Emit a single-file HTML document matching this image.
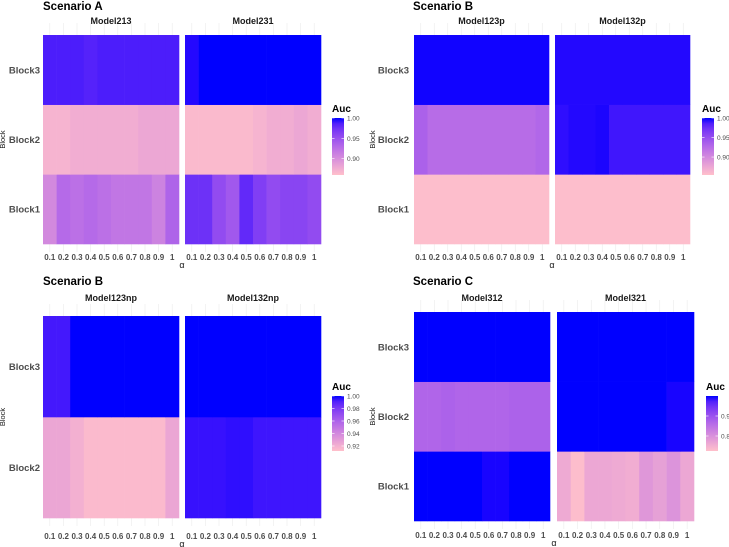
<!DOCTYPE html>
<html><head><meta charset="utf-8"><style>
html,body{margin:0;padding:0;background:#fff;}
svg{display:block;font-family:"Liberation Sans",sans-serif;}
</style></head><body>
<svg id="chart" width="729" height="547" viewBox="0 0 729 547" xmlns="http://www.w3.org/2000/svg"></svg>
<script>
const alphaTicks = ["0.1","0.2","0.3","0.4","0.5","0.6","0.7","0.8","0.9","1"];
const blocks3 = ["Block1","Block2","Block3"];
const blocks2 = ["Block2","Block3"];
// Scenario A
const m213_b1 = [0.905,0.93,0.925,0.93,0.925,0.92,0.92,0.92,0.91,0.935];
const m213_b2 = [0.87,0.87,0.875,0.875,0.875,0.875,0.875,0.88,0.88,0.88];
const m213_b3 = [0.988,0.988,0.988,0.985,0.988,0.988,0.988,0.988,0.988,0.988];
const m231_b1 = [0.975,0.975,0.955,0.945,0.98,0.965,0.955,0.96,0.96,0.955];
const m231_b2 = [0.865,0.865,0.865,0.865,0.865,0.87,0.875,0.875,0.88,0.875];
const m231_b3 = [0.997,1,1,1,1,1,1,1,1,1];
// Scenario B (p)
const m123p_b1 = [0.856,0.856,0.856,0.856,0.856,0.856,0.856,0.856,0.856,0.856];
const m123p_b2 = [0.935,0.925,0.925,0.925,0.925,0.925,0.925,0.925,0.925,0.93];
const m123p_b3 = [0.999,0.999,0.999,0.999,0.999,0.999,0.999,0.999,0.999,0.999];
const m132p_b1 = [0.856,0.856,0.856,0.856,0.856,0.856,0.856,0.856,0.856,0.856];
const m132p_b2 = [0.995,0.997,0.997,0.998,0.991,0.991,0.991,0.991,0.991,0.991];
const m132p_b3 = [0.997,0.997,0.997,0.997,0.997,0.997,0.997,0.997,0.997,0.997];
// Scenario B (np)
const m123np_b2 = [0.925,0.925,0.92,0.915,0.915,0.915,0.915,0.915,0.915,0.925];
const m123np_b3 = [0.994,0.994,1,1,1,1,1,1,1,1];
const m132np_b2 = [0.996,0.996,0.996,0.997,0.997,0.995,0.995,0.995,0.995,0.995];
const m132np_b3 = [1,1,1,1,1,1,1,1,1,1];
// Scenario C
const m312_b1 = [1,1,1,1,1,0.997,0.997,1,1,1];
const m312_b2 = [0.87,0.87,0.875,0.87,0.87,0.87,0.87,0.875,0.875,0.875];
const m312_b3 = [1,1,1,1,1,1,1,1,1,1];
const m321_b1 = [0.76,0.73,0.765,0.765,0.76,0.755,0.79,0.775,0.795,0.765];
const m321_b2 = [1,1,1,1,1,1,1,1,0.997,0.997];
const m321_b3 = [1,1,1,1,1,1,1,1,1,1];
// legend scales
const legA = {min:0.86,max:1.0,ticks:["1.00","0.95","0.90"],vals:[1.0,0.95,0.90]};
const legB = {min:0.854,max:1.0,ticks:["1.00","0.95","0.90"],vals:[1.0,0.95,0.90]};
const legBnp = {min:0.912,max:1.0,ticks:["1.00","0.98","0.96","0.94","0.92"],vals:[1.0,0.98,0.96,0.94,0.92]};
const legC = {min:0.725,max:1.0,ticks:["0.9","0.8"],vals:[0.9,0.8]};

const NS="http://www.w3.org/2000/svg";
const svg=document.getElementById('chart');
function mk(tag,attrs,parent,text){const e=document.createElementNS(NS,tag);for(const k in attrs)e.setAttribute(k,attrs[k]);if(text!==undefined)e.textContent=text;(parent||svg).appendChild(e);return e;}

function s2l(c){c/=255;return c<=0.04045?c/12.92:Math.pow((c+0.055)/1.055,2.4);}
function l2s(c){c=c<=0.0031308?12.92*c:1.055*Math.pow(c,1/2.4)-0.055;return Math.max(0,Math.min(255,Math.round(c*255)));}
function toLab(r,g,b){r=s2l(r);g=s2l(g);b=s2l(b);
 let x=(0.4124*r+0.3576*g+0.1805*b)/0.95047,y=0.2126*r+0.7152*g+0.0722*b,z=(0.0193*r+0.1192*g+0.9505*b)/1.08883;
 const f=t=>t>0.008856?Math.cbrt(t):7.787*t+16/116;x=f(x);y=f(y);z=f(z);return [116*y-16,500*(x-y),200*(y-z)];}
function fromLab(L,a,bb){let y=(L+16)/116,x=a/500+y,z=y-bb/200;
 const f=t=>t*t*t>0.008856?t*t*t:(t-16/116)/7.787;x=f(x)*0.95047;y=f(y);z=f(z)*1.08883;
 const r=3.2406*x-1.5372*y-0.4986*z,g=-0.9689*x+1.8758*y+0.0415*z,b=0.0557*x-0.2040*y+1.0570*z;
 return `rgb(${l2s(r)},${l2s(g)},${l2s(b)})`;}
const LO=toLab(255,192,203),HI=toLab(0,0,255);
function col(t){t=Math.max(0,Math.min(1,t));return fromLab(LO[0]+(HI[0]-LO[0])*t,LO[1]+(HI[1]-LO[1])*t,LO[2]+(HI[2]-LO[2])*t);}

let gid=0;
function panel(p){
  const g=mk('g',{});
  
  
  const t=mk('text',{x:p.titleX,y:p.titleY,'font-size':11.5,'font-weight':'bold',fill:'#000'},g,p.title);
  
  const nRows=p.blocks.length;
  const rowH=(p.y1-p.y0)/nRows;
  p.facets.forEach((f,fi)=>{
    const x0=f.x0,x1=f.x1,cw=(x1-x0)/alphaTicks.length;
    const xs=i=>x0+cw*i;
    alphaTicks.forEach((a,i)=>{mk('line',{x1:xs(i)+cw/2,x2:xs(i)+cw/2,y1:p.y0-12,y2:p.y1+8,stroke:'#ebebeb','stroke-width':0.6},g);});
    const fl=mk('text',{x:(x0+x1)/2,y:p.facetY,'font-size':9,'font-weight':'bold','text-anchor':'middle',fill:'#1a1a1a'},g,f.label);
    
    p.blocks.forEach((b,bi)=>{
      const vals=f.data[bi];
      const yTop=p.y1-rowH*(bi+1);
      vals.forEach((v,i)=>{
        const r=mk('rect',{x:xs(i),y:yTop,width:cw+0.3,height:rowH+0.3,fill:col((v-p.leg.min)/(p.leg.max-p.leg.min))},g);
        
        
      });
    });
    alphaTicks.forEach((a,i)=>{
      const tl=mk('text',{x:xs(i)+cw/2,y:p.tickY,'font-size':8,'font-weight':'bold','text-anchor':'middle',fill:'#4d4d4d'},g,a);
      
    });
  });
  p.blocks.forEach((b,bi)=>{
    const yc=p.y1-rowH*(bi+0.5);
    const bl=mk('text',{x:p.blockX,y:yc+3.5,'font-size':9.5,'font-weight':'bold','text-anchor':'end',fill:'#4d4d4d'},g,b);
    
  });
  const yt=mk('text',{x:0,y:0,'font-size':7.5,fill:'#1a1a1a','text-anchor':'middle',transform:`translate(${p.yTitleX},${(p.y0+p.y1)/2}) rotate(-90)`},g,'Block');
  
  const xt=mk('text',{x:(p.facets[0].x0+p.facets[1].x1)/2,y:p.tickY+8,'font-size':9,'text-anchor':'middle',fill:'#1a1a1a'},g,'α');
  
  const L=p.legPos, id='grad'+(gid++);
  const defs=mk('defs',{},g);
  const lg=mk('linearGradient',{id:id,x1:0,y1:1,x2:0,y2:0},defs);
  for(let k=0;k<=10;k++)mk('stop',{offset:k/10,'stop-color':col(k/10)},lg);
  const lt=mk('text',{x:L.x,y:L.y0-6,'font-size':10,'font-weight':'bold',fill:'#000'},g,'Auc');
  
  const lb=mk('rect',{x:L.x,y:L.y0,width:12,height:L.y1-L.y0,fill:`url(#${id})`},g);
  
  p.leg.vals.forEach((v,i)=>{
    const yy=L.y1-(v-p.leg.min)/(p.leg.max-p.leg.min)*(L.y1-L.y0);
    mk('line',{x1:L.x,x2:L.x+2.5,y1:yy,y2:yy,stroke:'#fff','stroke-width':0.6},g);
    mk('line',{x1:L.x+9.5,x2:L.x+12,y1:yy,y2:yy,stroke:'#fff','stroke-width':0.6},g);
    const tx=mk('text',{x:L.x+15,y:yy+2.5,'font-size':6.5,fill:'#4d4d4d'},g,p.leg.ticks[i]);
    
  });
}

panel({name:'panel-scenario-a',title:'Scenario A',titleX:43,titleY:10,facetY:24,y0:35,y1:244,tickY:260,blockX:40,yTitleX:5,
  blocks:blocks3,leg:legA,legPos:{x:332,y0:118,y1:175},
  facets:[{label:'Model213',x0:43,x1:179,data:[m213_b1,m213_b2,m213_b3]},{label:'Model231',x0:185,x1:321,data:[m231_b1,m231_b2,m231_b3]}]});
panel({name:'panel-scenario-b-p',title:'Scenario B',titleX:413,titleY:10,facetY:24,y0:35,y1:244,tickY:260,blockX:409,yTitleX:375,
  blocks:blocks3,leg:legB,legPos:{x:702,y0:118,y1:175},
  facets:[{label:'Model123p',x0:414,x1:549,data:[m123p_b1,m123p_b2,m123p_b3]},{label:'Model132p',x0:555,x1:690,data:[m132p_b1,m132p_b2,m132p_b3]}]});
panel({name:'panel-scenario-b-np',title:'Scenario B',titleX:43,titleY:285,facetY:301,y0:316,y1:518,tickY:539,blockX:40,yTitleX:5,
  blocks:blocks2,leg:legBnp,legPos:{x:332,y0:396,y1:451},
  facets:[{label:'Model123np',x0:43,x1:179,data:[m123np_b2,m123np_b3]},{label:'Model132np',x0:185,x1:321,data:[m132np_b2,m132np_b3]}]});
panel({name:'panel-scenario-c',title:'Scenario C',titleX:413,titleY:285,facetY:301,y0:312,y1:521,tickY:538,blockX:409,yTitleX:375,
  blocks:blocks3,leg:legC,legPos:{x:706,y0:396,y1:451},
  facets:[{label:'Model312',x0:414,x1:550,data:[m312_b1,m312_b2,m312_b3]},{label:'Model321',x0:557,x1:694,data:[m321_b1,m321_b2,m321_b3]}]});
</script>
</body></html>
